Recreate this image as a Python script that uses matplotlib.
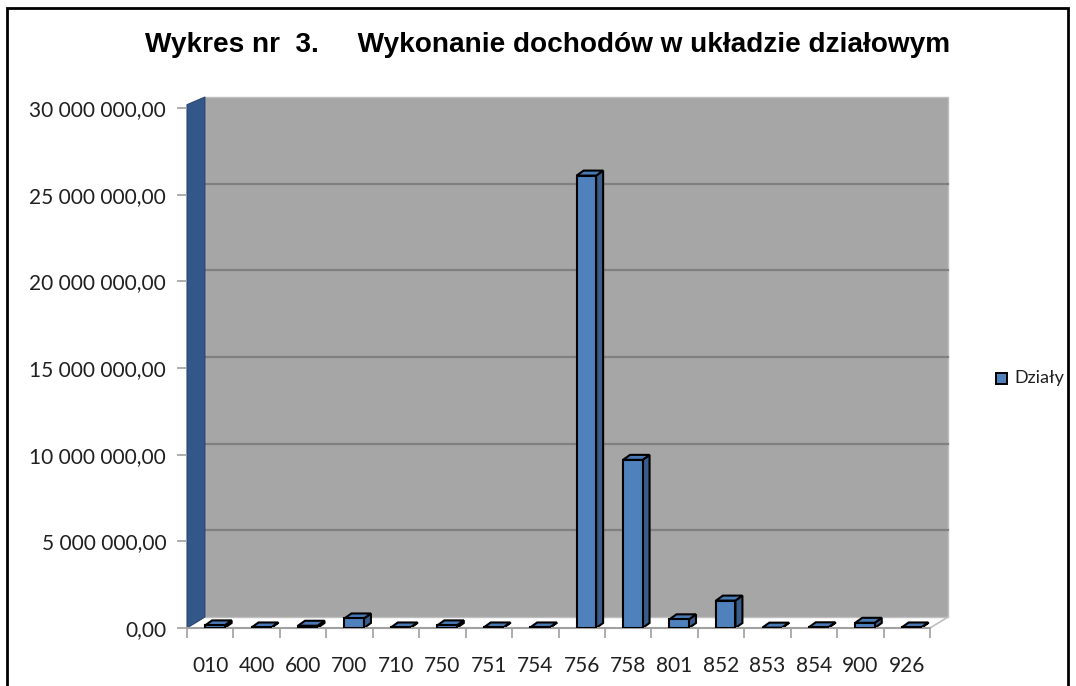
import numpy as np
import matplotlib.pyplot as plt
from matplotlib.patches import Polygon, Rectangle

# categories and values (PLN)
dzialy = ['010', '400', '600', '700', '710', '750', '751', '754',
          '756', '758', '801', '852', '853', '854', '900', '926']
wartosci = [150000, 30000, 130000, 550000, 30000, 150000, 30000, 30000,
            26100000, 9700000, 500000, 1580000, 20000, 40000, 300000, 30000]
y_ticks = [0, 5e6, 10e6, 15e6, 20e6, 25e6, 30e6]


def fmt(v):
    s = '{:,.2f}'.format(v)
    return s.replace(',', ' ').replace('.', ',')


fig = plt.figure(figsize=(10.76, 6.86), dpi=100)
ax = fig.add_axes([187/1076, 58/686, 743/1076, 520/686])
n = len(dzialy)
ax.set_xlim(-0.5, n - 0.5)
ax.set_ylim(0, 30e6)

# pixel -> data conversion for 3d depth offsets
px_x = n / 743.0
px_y = 30e6 / 520.0
wdx, wdy = 18 * px_x, 11 * px_y   # wall depth
bdx, bdy = 7 * px_x, 5 * px_y     # bar depth

x0, x1 = -0.5, n - 0.5
# back wall
ax.add_patch(Polygon([(x0 + wdx, wdy), (x1 + wdx, wdy), (x1 + wdx, 30e6 + wdy),
                      (x0 + wdx, 30e6 + wdy)], closed=True, facecolor='#a6a6a6',
                     edgecolor='#bfbfbf', lw=1, clip_on=False, zorder=0))
for t in y_ticks[1:-1]:
    ax.plot([x0 + wdx, x1 + wdx], [t + wdy, t + wdy], color='#808080', lw=1.6,
            clip_on=False, zorder=1)
# left wall
ax.add_patch(Polygon([(x0, 0), (x0 + wdx, wdy), (x0 + wdx, 30e6 + wdy), (x0, 30e6 + wdy * 0.3)],
                     closed=True, facecolor='#34578a', edgecolor='#2a4670', lw=0.8,
                     clip_on=False, zorder=1))
# floor edge on the right
ax.plot([x1, x1 + wdx], [0, wdy], color='#bfbfbf', lw=1.2, clip_on=False, zorder=1)

# bars with side and top faces
xs = np.arange(n) + 0.1
w = 0.42
ax.bar(xs, wartosci, width=w, color='#4f81bd', edgecolor='black', lw=1.5, zorder=3)
for xc, v in zip(xs, wartosci):
    l, r = xc - w / 2, xc + w / 2
    ax.add_patch(Polygon([(r, 0), (r + bdx, bdy), (r + bdx, v + bdy), (r, v)], closed=True,
                         facecolor='#385d8a', edgecolor='black', lw=1.5, zorder=2))
    ax.add_patch(Polygon([(l, v), (r, v), (r + bdx, v + bdy), (l + bdx, v + bdy)], closed=True,
                         facecolor='#4a7ab5', edgecolor='black', lw=1.5, zorder=2))

for s in ['top', 'right', 'left']:
    ax.spines[s].set_visible(False)
ax.spines['bottom'].set_color('#a0a0a0')
ax.spines['bottom'].set_linewidth(1.5)
ax.set_facecolor('none')

ax.set_yticks(y_ticks)
ax.set_yticklabels([fmt(t) for t in y_ticks], fontsize=15, family='Lato', color='#202020')
ax.tick_params(axis='y', length=7, width=1.2, color='#a0a0a0', pad=8)
ax.set_xticks(np.arange(n))
ax.set_xticklabels(dzialy, fontsize=15, family='Lato', color='#202020')
ax.set_xticks(np.arange(n + 1) - 0.5, minor=True)
ax.tick_params(axis='x', which='major', length=0, pad=20)
ax.tick_params(axis='x', which='minor', length=7, width=1.2, color='#a0a0a0')

fig.text(0.509, 0.934, 'Wykres nr  3.     Wykonanie dochodów w układzie działowym',
         ha='center', va='center', fontsize=20.2, fontweight='bold', family='Liberation Sans')

# legend
fig.patches.append(Rectangle((996/1076, (686-384)/686), 11/1076, 11/686,
                             transform=fig.transFigure, facecolor='#4f81bd',
                             edgecolor='black', lw=1.4))
fig.text(1014/1076, (686-378)/686, 'Działy', fontsize=13, family='Lato',
         va='center', ha='left', color='#202020')

# outer frame
fig.patches.append(Rectangle((7/1076, -0.02), 1061/1076, 1.02 - 8/686,
                             transform=fig.transFigure, fill=False, edgecolor='black',
                             lw=2, clip_on=False))

fig.savefig('out.png', dpi=100)
